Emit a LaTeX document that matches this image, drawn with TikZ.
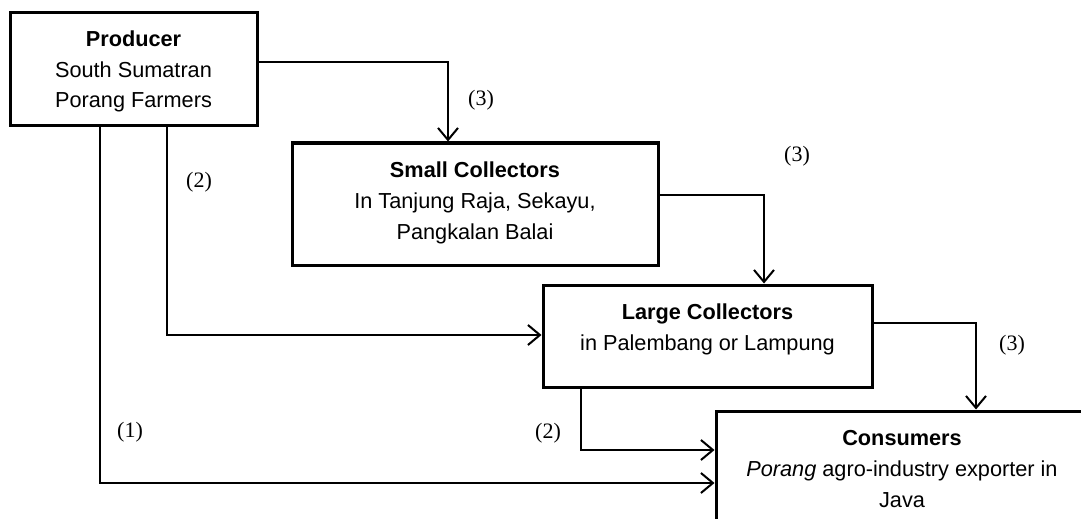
\documentclass[tikz,border=0pt]{standalone}
\usepackage{fontspec}
\setmainfont{Liberation Sans}
\newfontfamily\tagfont{Liberation Serif}
\usetikzlibrary{arrows.meta, positioning}

\tikzset{
  actor/.style={draw, line width=1.5pt, align=center, inner sep=2pt,
                font=\fontsize{10.85}{15.3}\selectfont},
  flow/.style={line width=0.65pt, line cap=rect},
  flowend/.style={line width=1pt, ->},
  tag/.style={font=\tagfont\fontsize{11}{13}\selectfont}
}

\begin{document}
\begin{tikzpicture}[x=0.5pt, y=-0.5pt,
    >={Straight Barb[length=6pt, width=10pt, line join=miter]}]
  \useasboundingbox (0,0) rectangle (1081,519);
  % Actors
  \node[actor, minimum width=123.5pt, minimum height=56.5pt, text depth=0pt] (prod) at (133.5,69.5)
    {\textbf{Producer}\\South Sumatran\\Porang Farmers};
  \node[actor, minimum width=183pt, minimum height=61pt, text depth=3.3pt] (small) at (475,204)
    {\textbf{Small Collectors}\\In Tanjung Raja, Sekayu,\\Pangkalan Balai};
  \node[actor, minimum width=164.5pt, minimum height=51pt, text depth=9pt] (large) at (707.5,336)
    {\textbf{Large Collectors}\\in Palembang or Lampung};
  \node[actor, minimum width=186pt, minimum height=58pt] (cons) at (902,469)
    {\textbf{Consumers}\\\textit{Porang} agro-industry exporter in\\Java};
  % Producer -> small collectors (3)
  \coordinate (ps) at (448,62);
  \draw[flow] (prod.east |- ps) -- (ps);
  \draw[flowend] (ps) -- (small.north -| ps);
  \node[tag] (t1) at (481,100) {(3)};
  % Small -> large collectors (3)
  \coordinate (sl) at (764,195);
  \draw[flow] (small.east |- sl) -- (sl);
  \draw[flowend] (sl) -- (large.north -| sl);
  \node[tag] (t2) at (797,156) {(3)};
  % Large collectors -> consumers (3)
  \coordinate (lc) at (976,323);
  \draw[flow] (large.east |- lc) -- (lc);
  \draw[flowend] (lc) -- (cons.north -| lc);
  \node[tag] (t3) at (1012,345) {(3)};
  % Large collectors -> consumers (2)
  \coordinate (lc2) at (581,450);
  \draw[flow] (large.south -| lc2) -- (lc2);
  \draw[flowend] (lc2) -- (cons.west |- lc2);
  \node[tag] (t4) at (548,433) {(2)};
  % Producer -> large collectors (2)
  \coordinate (pl) at (167,335);
  \draw[flow] (prod.south -| pl) -- (pl);
  \draw[flowend] (pl) -- (large.west |- pl);
  \node[tag] (t5) at (199,182) {(2)};
  % Producer -> consumers (1)
  \coordinate (pc) at (100,483);
  \draw[flow] (prod.south -| pc) -- (pc);
  \draw[flowend] (pc) -- (cons.west |- pc);
  \node[tag] (t6) at (130,432) {(1)};
\end{tikzpicture}
\end{document}
